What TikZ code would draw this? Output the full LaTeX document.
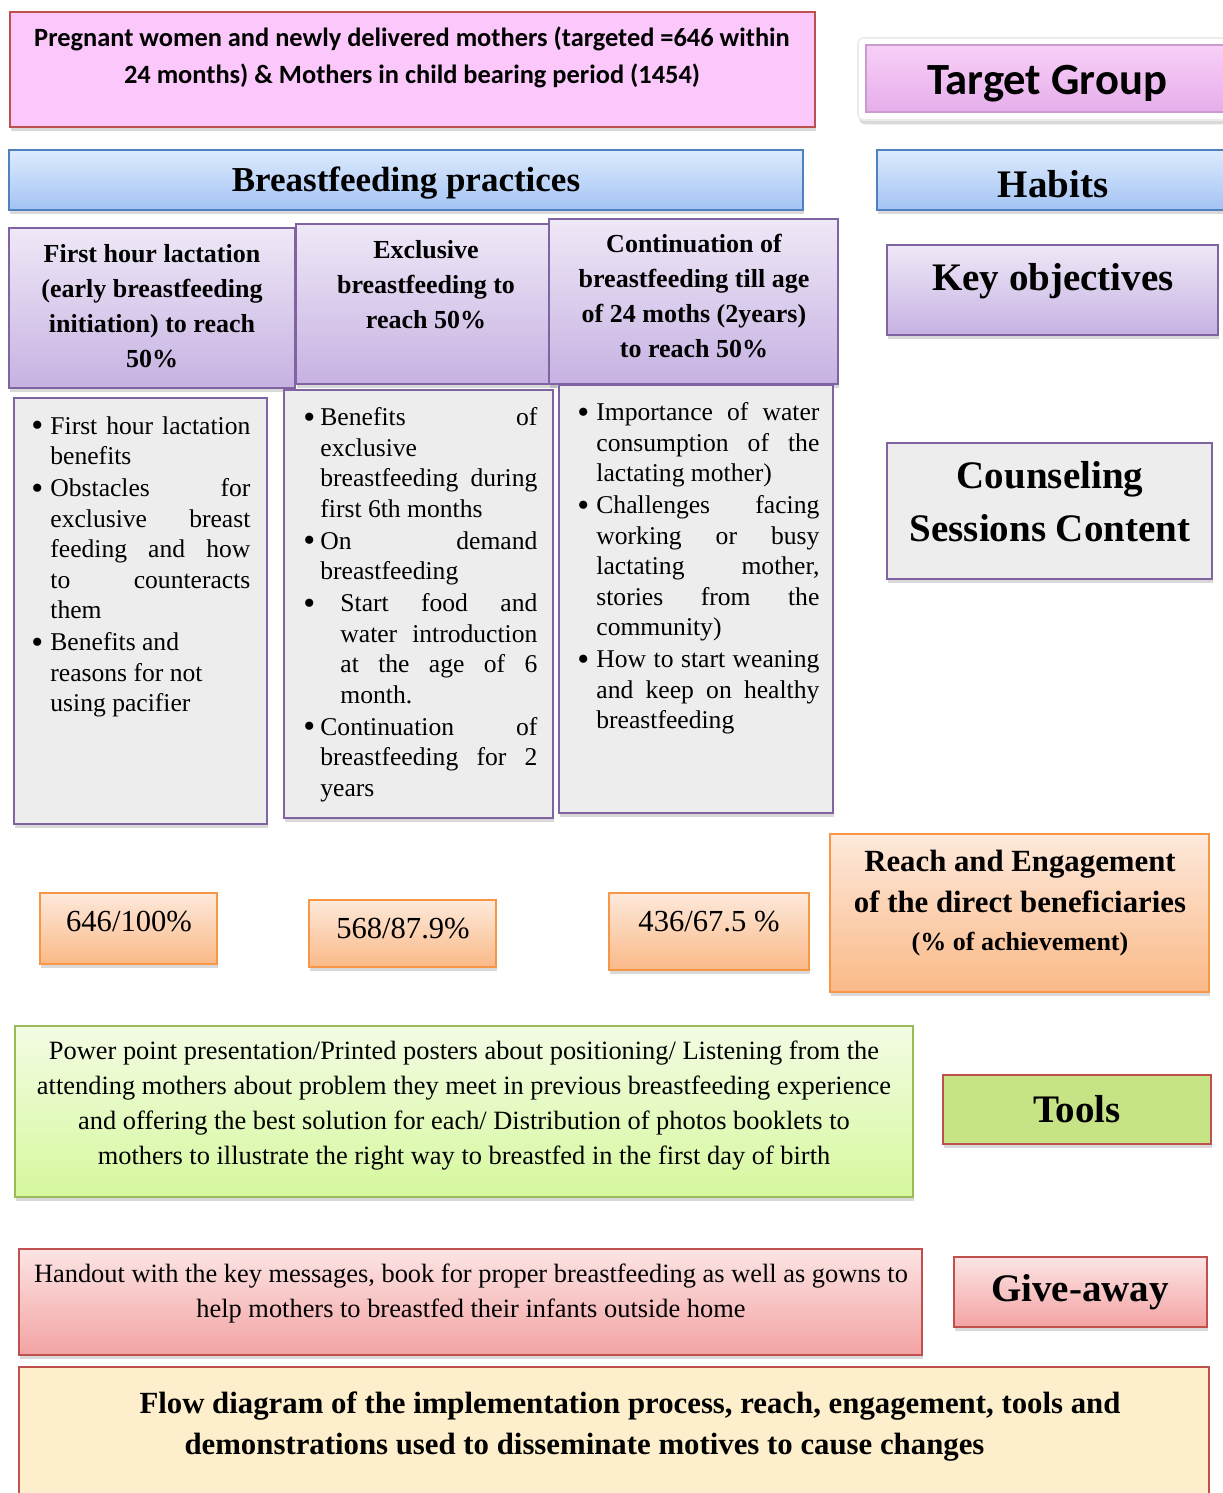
\documentclass[tikz,border=0pt]{standalone}
\usepackage{fontspec}
\setmainfont{Liberation Serif}
\newfontfamily\calibri{Carlito}
\usetikzlibrary{fit,shadows}
\definecolor{tgpink}{HTML}{FCC8FC}
\definecolor{redline}{HTML}{C0504D}
\definecolor{tgtop}{HTML}{F8CFF7}
\definecolor{tgbot}{HTML}{E6AEEB}
\definecolor{tgline}{HTML}{C99CCD}
\definecolor{bluetop}{HTML}{DDEBFD}
\definecolor{bluebot}{HTML}{A3C3F4}
\definecolor{blueline}{HTML}{4F81BD}
\definecolor{purptop}{HTML}{EFE8F7}
\definecolor{purpbot}{HTML}{C6B2E2}
\definecolor{purpline}{HTML}{8064A2}
\definecolor{greyfill}{HTML}{EDEDED}
\definecolor{orgtop}{HTML}{FDE9DB}
\definecolor{orgbot}{HTML}{FAB987}
\definecolor{orgline}{HTML}{F79646}
\definecolor{grntop}{HTML}{F3FCE3}
\definecolor{grnbot}{HTML}{D6F89E}
\definecolor{grnline}{HTML}{9BBB59}
\definecolor{toolgrn}{HTML}{C6E386}
\definecolor{redtop}{HTML}{FCE4E4}
\definecolor{redbot}{HTML}{F3A3A3}
\definecolor{yelfill}{HTML}{FDEFCB}
\tolerance=10000
\hbadness=10000
\newcommand{\bitem}[1]{\par\vspace{0.8pt}\noindent\hangindent=#1\hangafter=1\makebox[#1][l]{\raisebox{-1.3pt}{\fontsize{17}{15}\selectfont\textbullet}}\ignorespaces}
\tikzset{
  boxbase/.style={inner sep=0pt, line width=0.8pt, drop shadow={shadow xshift=0.6pt, shadow yshift=-2.2pt, opacity=0.3}},
  pinkrect/.style={boxbase, draw=redline, fill=tgpink},
  whiteframe/.style={boxbase, draw=black!8, fill=white, rounded corners=3pt},
  tgrect/.style={inner sep=0pt, line width=0.8pt, draw=tgline, top color=tgtop, bottom color=tgbot},
  bluerect/.style={boxbase, draw=blueline, top color=bluetop, bottom color=bluebot},
  purprect/.style={boxbase, draw=purpline, top color=purptop, bottom color=purpbot},
  greyrect/.style={boxbase, draw=purpline, fill=greyfill},
  orangerect/.style={boxbase, draw=orgline, top color=orgtop, bottom color=orgbot},
  greenrect/.style={boxbase, draw=grnline, top color=grntop, bottom color=grnbot},
  toolrect/.style={boxbase, draw=redline, fill=toolgrn},
  redrect/.style={boxbase, draw=redline, top color=redtop, bottom color=redbot},
  yellowrect/.style={boxbase, draw=redline, fill=yelfill},
  labeltext/.style={font=\bfseries\fontsize{19.5}{26.5}\selectfont, align=center},
  headtext/.style={font=\bfseries\fontsize{13}{17.5}\selectfont, align=center},
  bodytext/.style={font=\fontsize{12.8}{15.25}\selectfont, anchor=north west, inner sep=0pt, align=justify},
  numtext/.style={font=\fontsize{15.3}{18}\selectfont},
  plaintext/.style={font=\fontsize{13.2}{17.5}\selectfont, align=center}
}
\begin{document}
\begin{tikzpicture}[x=0.5pt,y=-0.5pt]
\useasboundingbox (0,0) rectangle (1222,1493);
\node[pinkrect, fit={(10,12) (815,127)}] (tgbox) {};
\node[font=\calibri\bfseries\fontsize{13.2}{18.5}\selectfont, align=center] (tgtext) at (412,57.5) {Pregnant women and newly delivered mothers (targeted =646 within\\24 months) \& Mothers in child bearing period (1454)};
\node[whiteframe, fit={(858,38) (1232,120)}] (tgframe) {};
\node[tgrect, fit={(866,45) (1234,112)}] (tglabel) {};
\node[font=\calibri\bfseries\fontsize{22.3}{26}\selectfont] (tglabeltext) at (1047,84) {Target Group};
\node[bluerect, fit={(9,150) (803,210)}] (bfbox) {};
\node[font=\bfseries\fontsize{17.5}{21}\selectfont] (bftext) at (406,183) {Breastfeeding practices};
\node[bluerect, fit={(877,150) (1230,210)}] (habbox) {};
\node[labeltext] (habtext) at (1053,184) {Habits};
\node[purprect, fit={(9,228) (295,388)}] (hd1) {};
\node[purprect, fit={(296,224) (556,384)}] (hd2) {};
\node[purprect, fit={(549,219) (838,384)}] (hd3) {};
\node[headtext] (hd1text) at (152,306) {First hour lactation\\(early breastfeeding\\initiation) to reach\\50\%};
\node[headtext] (hd2text) at (426,285) {Exclusive\\breastfeeding to\\reach 50\%};
\node[headtext] (hd3text) at (694,296) {Continuation of\\breastfeeding till age\\of 24 moths (2years)\\to reach 50\%};
\node[purprect, fit={(887,245) (1218,335)}] (keybox) {};
\node[labeltext] (keytext) at (1053,281) {Key objectives};
\node[greyrect, fit={(14,398) (267,824)}] (c1) {};
\node[greyrect, fit={(284,390) (553,818)}] (c2) {};
\node[greyrect, fit={(559,385) (833,813)}] (c3) {};
\node[bodytext, text width=109.5pt] (c1text) at (31,401.5) {%
\bitem{9.5pt}First hour lactation\linebreak benefits
\bitem{9.5pt}Obstacles for\linebreak exclusive breast\linebreak feeding and how\linebreak to counteracts\linebreak them
\bitem{9.5pt}Benefits and\newline reasons for not\newline using pacifier\par};
\node[bodytext, text width=117pt] (c2text) at (303,393) {%
\bitem{8.5pt}Benefits of\linebreak exclusive\newline breastfeeding during\linebreak first 6th months
\bitem{8.5pt}On demand\linebreak breastfeeding
\bitem{18.5pt}Start food and\linebreak water introduction\linebreak at the age of 6\linebreak month.
\bitem{8.5pt}Continuation of\linebreak breastfeeding for 2\linebreak years\par};
\node[bodytext, text width=121pt] (c3text) at (577,388) {%
\bitem{9.5pt}Importance of water\linebreak consumption of the\linebreak lactating mother)
\bitem{9.5pt}Challenges facing\linebreak working or busy\linebreak lactating mother,\linebreak stories from the\linebreak community)
\bitem{9.5pt}How to start weaning\linebreak and keep on healthy\linebreak breastfeeding\par};
\node[greyrect, fit={(887,443) (1212,579)}] (csbox) {};
\node[labeltext] (cstext) at (1050,502) {Counseling\\Sessions Content};
\node[orangerect, fit={(40,893) (217,964)}] (o1) {};
\node[orangerect, fit={(309,900) (496,967)}] (o2) {};
\node[orangerect, fit={(609,893) (809,970)}] (o3) {};
\node[numtext] (o1text) at (129,922) {646/100\%};
\node[numtext] (o2text) at (403,929) {568/87.9\%};
\node[numtext] (o3text) at (709,922) {436/67.5 \%};
\node[orangerect, fit={(830,834) (1209,992)}] (reachbox) {};
\node[font=\bfseries\fontsize{15.4}{20.5}\selectfont, align=center] (reachtext) at (1020,903) {Reach and Engagement\\of the direct beneficiaries\\[-1.5pt]{\fontsize{13}{17}\selectfont(\% of achievement)}};
\node[greenrect, fit={(15,1026) (913,1197)}] (toolsbox) {};
\node[plaintext] (toolstext) at (464,1106) {Power point presentation/Printed posters about positioning/ Listening from the\\attending mothers about problem they meet in previous breastfeeding experience\\and offering the best solution for each/ Distribution of photos booklets to\\mothers to illustrate the right way to breastfed in the first day of birth};
\node[toolrect, fit={(943,1075) (1211,1144)}] (toolslabel) {};
\node[labeltext] (toolslabeltext) at (1077,1109) {Tools};
\node[redrect, fit={(19,1249) (922,1355)}] (givebox) {};
\node[plaintext] (givetext) at (471,1294) {Handout with the key messages, book for proper breastfeeding as well as gowns to\\help mothers to breastfed their infants outside home};
\node[redrect, fit={(954,1257) (1207,1327)}] (givelabel) {};
\node[labeltext] (givelabeltext) at (1080,1292) {Give-away};
\node[yellowrect, fit={(19,1367) (1209,1510)}] (flowbox) {};
\node[font=\bfseries\fontsize{15.4}{20.5}\selectfont, align=center] (flowtext) at (630,1427) {Flow diagram of the implementation process, reach, engagement, tools and\\demonstrations used to disseminate motives to cause changes\hspace*{45.5pt}};
\end{tikzpicture}
\end{document}
